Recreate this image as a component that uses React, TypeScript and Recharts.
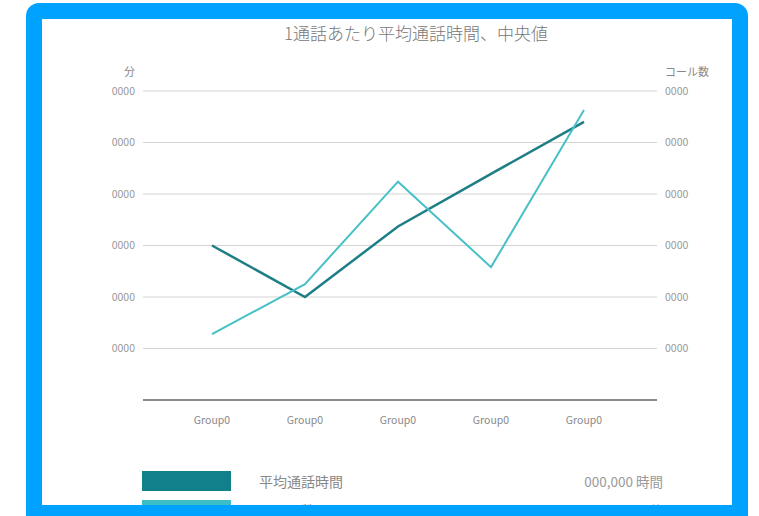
import { LineChart, Line, XAxis, YAxis, CartesianGrid } from "recharts";

const categories = ["Group0", "Group0", "Group0", "Group0", "Group0"];
const avgTalkTime = [3.0, 2.0, 3.37, 4.39, 5.4];
const callCount = [1.28, 2.25, 4.24, 2.58, 5.63];
const yTicks = [1, 2, 3, 4, 5, 6];
const tickLabel = "0000";

const legendItems = [
  { name: "平均通話時間", value: "000,000 時間", color: "#12808A" },
  { name: "コール数", value: "000,000 件", color: "#3DBDC5" },
];

const BLUE = "#00A2FF";
const DARK = "#1E7E86";
const LIGHT = "#48C0C7";
const FONT = '"Noto Sans CJK JP", "Noto Sans", sans-serif';

const data = categories.map((name, i) => ({
  name,
  avg: avgTalkTime[i],
  calls: callCount[i],
}));

export default function App() {
  return (
    <div
      style={{
        position: "fixed",
        left: 0,
        top: 0,
        width: 759,
        height: 516,
        overflow: "hidden",
        background: "#fff",
        fontFamily: FONT,
      }}
    >
      <div
        style={{
          position: "absolute",
          left: 26,
          top: 3,
          width: 722,
          height: 560,
          background: BLUE,
          borderRadius: 13,
        }}
      />
      <div
        style={{
          position: "absolute",
          left: 42,
          top: 19,
          width: 690,
          height: 486,
          background: "#fff",
          overflow: "hidden",
        }}
      >
        <div
          style={{
            position: "absolute",
            left: 0,
            width: 748,
            top: 2,
            textAlign: "center",
            fontSize: 17,
            fontWeight: 300,
            color: "#777",
            lineHeight: "24px",
            whiteSpace: "nowrap",
          }}
        >
          1通話あたり平均通話時間、中央値
        </div>
        <div style={{ position: "absolute", left: 82, top: 44, fontSize: 11, color: "#888" }}>
          分
        </div>
        <div style={{ position: "absolute", left: 623, top: 44, fontSize: 11, color: "#888" }}>
          コール数
        </div>

        <div style={{ position: "absolute", left: 0, top: 0 }}>
          <LineChart
            width={690}
            height={420}
            data={data}
            margin={{ top: 72, right: 15, bottom: 9, left: 41 }}
          >
            <CartesianGrid
              yAxisId="left"
              vertical={false}
              stroke="#d4d4d4"
              strokeWidth={1}
            />
            <XAxis
              dataKey="name"
              axisLine={{ stroke: "#8a8a8a", strokeWidth: 2 }}
              tickLine={false}
              tickSize={0}
              tickMargin={17}
              height={30}
              padding={{ left: 69, right: 73 }}
              tick={{ fontSize: 10.5, fill: "#888", fontFamily: FONT }}
            />
            <YAxis
              yAxisId="left"
              width={60}
              domain={[0, 6]}
              ticks={yTicks}
              axisLine={false}
              tickLine={false}
              tickFormatter={() => tickLabel}
              tick={{ fontSize: 10.5, fill: "#999", fontFamily: FONT }}
            />
            <YAxis
              yAxisId="right"
              orientation="right"
              width={60}
              domain={[0, 6]}
              ticks={yTicks}
              axisLine={false}
              tickLine={false}
              tickFormatter={() => tickLabel}
              tick={{ fontSize: 10.5, fill: "#999", fontFamily: FONT }}
            />
            <Line
              yAxisId="left"
              dataKey="avg"
              stroke={DARK}
              strokeWidth={2.5}
              dot={false}
              activeDot={false}
              isAnimationActive={false}
            />
            <Line
              yAxisId="right"
              dataKey="calls"
              stroke={LIGHT}
              strokeWidth={2}
              dot={false}
              activeDot={false}
              isAnimationActive={false}
            />
          </LineChart>
        </div>

        {legendItems.map((item, i) => (
          <div
            key={i}
            style={{
              position: "absolute",
              left: 100,
              top: 452 + i * 29,
              width: 521,
              height: 20,
              display: "flex",
              alignItems: "center",
            }}
          >
            <div style={{ width: 89, height: 20, background: item.color }} />
            <div style={{ marginLeft: 28, fontSize: 14, color: "#888" }}>{item.name}</div>
            <div style={{ marginLeft: "auto", fontSize: 13.5, color: "#999" }}>{item.value}</div>
          </div>
        ))}
      </div>
    </div>
  );
}
